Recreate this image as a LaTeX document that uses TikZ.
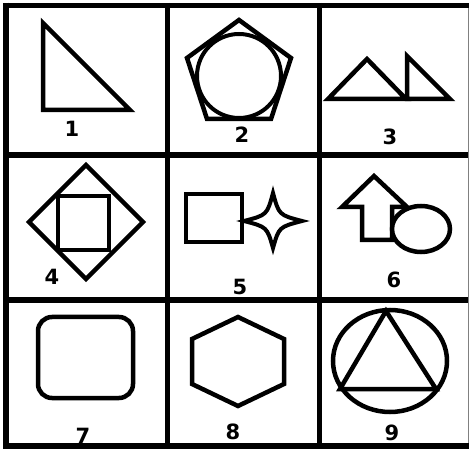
\documentclass[tikz,border=0pt]{standalone}
\usepackage{fontspec}
\setmainfont{DejaVu Sans}
\begin{document}
\begin{tikzpicture}[x=1pt,y=-1pt,
    frame/.style={line width=5.5pt},
    figline/.style={line width=4.5pt},
    lab/.style={anchor=base,inner sep=0pt,font=\bfseries\fontsize{21}{21}\selectfont}]
  \useasboundingbox (0,0) rectangle (469,449);
  % grid
  \fill[white] (0,0) rectangle (469,449);
  \draw[gray,line width=1pt] (468,3) -- (468,449);
  \draw[frame] (6,2.75) -- (6,449);
  \draw[frame] (3,5.5) -- (469,5.5);
  \draw[frame] (3,446) -- (469,446);
  \draw[frame] (167.5,3) -- (167.5,449);
  \draw[frame] (319.5,3) -- (319.5,449);
  \draw[frame] (3,155) -- (468,155);
  \draw[frame] (3,300) -- (468,300);
  % 1: right triangle
  \draw[figline] (43,23) -- (43,110) -- (130,110) -- cycle;
  \node[lab] (n1) at (72,137) {1};
  % 2: pentagon with circle
  \draw[figline] (239,20) -- (291,58) -- (271,119) -- (207,119) -- (187,58) -- cycle;
  \draw[figline,line width=4pt] (239,76) circle (42);
  \node[lab] (n2) at (242,143) {2};
  % 3: two triangles
  \draw[figline] (328,99) -- (367,59) -- (406,99) -- cycle;
  \draw[figline] (407,56) -- (450,99) -- (407,99) -- cycle;
  \node[lab] (n3) at (390,145) {3};
  % 4: square in diamond
  \draw[figline] (86,165) -- (143,222) -- (86,279) -- (29,222) -- cycle;
  \draw[figline] (58,196) rectangle (109,250);
  \node[lab] (n4) at (52,285) {4};
  % 5: square and star
  \draw[figline] (186,194) rectangle (242,242);
  \draw[figline,line width=4pt] (273,193) .. controls (279,215) .. (302,221)
    .. controls (279,227) .. (273,248) .. controls (267,227) .. (244,221)
    .. controls (267,215) .. cycle;
  \node[lab] (n5) at (240,295) {5};
  % 6: arrow and ellipse
  \draw[figline] (374,176) -- (407,207) -- (392,207) -- (392,240) -- (362,240)
    -- (362,207) -- (342,207) -- cycle;
  \draw[figline,fill=white] (421,229) ellipse [x radius=29, y radius=23];
  \node[lab] (n6) at (394,288) {6};
  % 7: rounded square
  \draw[figline,rounded corners=14pt] (38,317) rectangle (133,398);
  \node[lab] (n7) at (83,443) {7};
  % 8: hexagon
  \draw[figline] (238,317) -- (284,339) -- (284,384) -- (238,406) -- (192,384)
    -- (192,339) -- cycle;
  \node[lab] (n8) at (233,439) {8};
  % 9: triangle in circle
  \draw[figline] (390,361) ellipse [x radius=57, y radius=51];
  \draw[figline] (386,311) -- (436,389) -- (340,389) -- cycle;
  \node[lab] (n9) at (392,440) {9};
\end{tikzpicture}
\end{document}
